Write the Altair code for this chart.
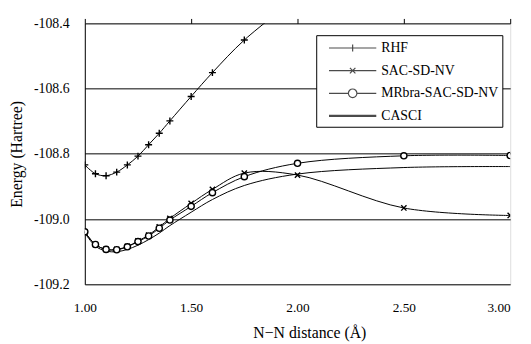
import altair as alt
import pandas as pd

distance = [1.00, 1.05, 1.10, 1.15, 1.20, 1.25, 1.30, 1.35, 1.40, 1.50, 1.60, 1.75, 2.00, 2.50, 3.00]
rhf = [-108.834, -108.861, -108.867, -108.856, -108.834, -108.807, -108.772, -108.737, -108.699,
       -108.624, -108.551, -108.451, -108.32, None, None]
sac = [-109.040, -109.078, -109.093, -109.093, -109.084, -109.067, -109.049, -109.024, -108.998,
       -108.952, -108.909, -108.859, -108.865, -108.966, -108.989]
mrbra = [-109.039, -109.078, -109.093, -109.094, -109.085, -109.069, -109.052, -109.028, -109.003,
         -108.961, -108.919, -108.870, -108.829, -108.806, -108.805]
casci = [-109.042, -109.083, -109.098, -109.100, -109.093, -109.080, -109.063, -109.043, -109.020,
         -108.979, -108.940, -108.897, -108.862, -108.842, -108.839]
series_names = ["RHF", "SAC-SD-NV", "MRbra-SAC-SD-NV", "CASCI"]
x_ticks = [1.0, 1.5, 2.0, 2.5, 3.0]
y_ticks = [-109.2, -109.0, -108.8, -108.6, -108.4]

rows = []
for name, vals in zip(series_names, [rhf, sac, mrbra, casci]):
    for d, v in zip(distance, vals):
        if v is not None:
            rows.append({"series": name, "distance": d, "energy": v})
df = pd.DataFrame(rows)

FONT = "Liberation Serif, Times New Roman, serif"

xscale = alt.Scale(domain=[1, 3], nice=False, zero=False)
yscale = alt.Scale(domain=[-109.2, -108.4], nice=False, zero=False)

# single x axis on top: ticks point up from the top frame, labels and title pushed below the plot
x_enc = alt.X("distance:Q", scale=xscale, axis=alt.Axis(
    orient="top", values=x_ticks, format=".2f", ticks=True, tickSize=5, tickColor="black",
    tickWidth=1, tickOpacity=1, domain=False, grid=False,
    labelFont=FONT, labelFontSize=13.5, labelColor="black", labelBaseline="middle",
    labelPadding=-294,
    labelAlign={"expr": "datum.value == 3 ? 'right' : 'center'"},
    title="N\u2212N distance (\u00c5)", titleFont=FONT, titleFontSize=16, titleFontWeight="normal",
    titleColor="black", titleBaseline="middle", titleX=228, titleY=314))
y_enc = alt.Y("energy:Q", scale=yscale, axis=alt.Axis(
    values=y_ticks, ticks=False, domain=True, domainColor="black", grid=True, gridColor="black",
    gridOpacity=1, gridWidth=1,
    labelExpr="'-' + format(abs(datum.value), '.1f')",
    labelFont=FONT, labelFontSize=14, labelColor="black", labelPadding=16,
    title="Energy (Hartree)", titleFont=FONT, titleFontSize=16, titleFontWeight="normal",
    titleColor="black", titlePadding=9))

lines = alt.Chart(df).mark_line(interpolate="catmull-rom", clip=True, color="black").encode(
    x=x_enc, y=y_enc, detail="series:N",
    strokeWidth=alt.StrokeWidth("series:N", scale=alt.Scale(domain=series_names, range=[1, 1, 1, 2.2]),
                                legend=None),
)

marker_paths = [
    "M-1,0L1,0M0,-1L0,1",
    "M-0.8,-0.8L0.8,0.8M-0.8,0.8L0.8,-0.8",
    "circle",
]
points = alt.Chart(df).transform_filter("datum.series != 'CASCI'").mark_point(
    filled=True, fill="white", stroke="black", strokeWidth=1.4, clip=True, opacity=1
).encode(
    x="distance:Q", y="energy:Q",
    shape=alt.Shape("series:N", scale=alt.Scale(domain=series_names[:3], range=marker_paths), legend=None),
    size=alt.Size("series:N", scale=alt.Scale(domain=series_names[:3], range=[50, 40, 70]), legend=None),
)

legend_paths = [
    "M-3,0L3,0M0,-0.44L0,0.44",
    "M-3,0L3,0M-0.35,-0.35L0.35,0.35M-0.35,0.35L0.35,-0.35",
    "M-3,0L-0.54,0M0.54,0L3,0M-0.54,0A0.54,0.54 0 1,0 0.54,0A0.54,0.54 0 1,0 -0.54,0",
    "M-3,-0.06L3,-0.06M-3,0.06L3,0.06",
]
legend_layer = alt.Chart(df).transform_filter("false").mark_point(
    filled=False, color="black", strokeWidth=1.2
).encode(
    shape=alt.Shape("series:N", scale=alt.Scale(domain=series_names, range=legend_paths),
                    legend=alt.Legend(
                        title=None, orient="none", legendX=235, legendY=12,
                        padding=4, rowPadding=7, symbolSize=256, symbolOffset=24,
                        symbolStrokeColor="black", symbolStrokeWidth=1.2, symbolFillColor="transparent",
                        labelOffset=20, labelFont=FONT, labelFontSize=14, labelColor="black",
                        labelExpr="datum.label + '\u00a0\u00a0\u00a0\u00a0'",
                        strokeColor="black", fillColor="white",
                    )),
)

chart = alt.layer(lines, points, legend_layer).resolve_scale(
    shape="independent", size="independent"
).properties(
    width=432, height=265,
    autosize=alt.AutoSizeParams(type="none"),
    padding={"left": 78, "top": 13, "right": 13, "bottom": 58},
).configure_view(stroke="black", strokeWidth=1).configure(background="white", font=FONT)

chart.save("out.html", embed_options={"renderer": "svg", "actions": False})
